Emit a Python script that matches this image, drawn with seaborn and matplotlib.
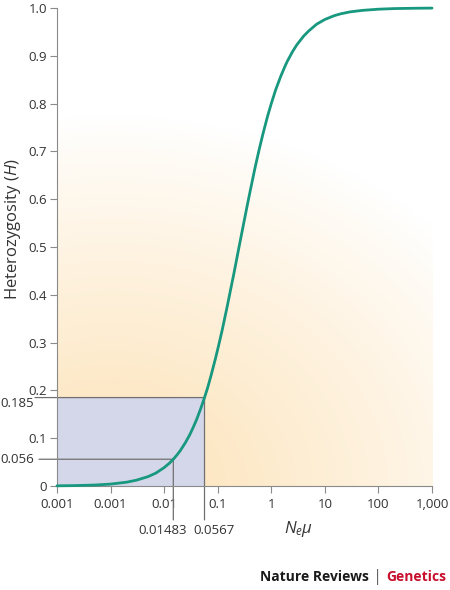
import numpy as np
import matplotlib
matplotlib.use("Agg")
import matplotlib.pyplot as plt
import matplotlib.transforms as mtransforms
from matplotlib.ticker import NullLocator
import seaborn as sns

# values
ne_mu = [0.0001, 0.0002, 0.0005, 0.001, 0.002, 0.003, 0.005, 0.007, 0.01, 0.0125,
         0.01483, 0.0175, 0.02, 0.025, 0.03, 0.035, 0.04, 0.0475, 0.0567, 0.065,
         0.075, 0.09, 0.1, 0.12, 0.15, 0.18, 0.2, 0.25, 0.3, 0.35, 0.4, 0.5, 0.6,
         0.7, 0.85, 1, 1.2, 1.5, 1.8, 2, 2.5, 3, 4, 5, 7, 10, 15, 20, 30, 50, 100,
         200, 500, 1000]
heterozygosity = [0.0004, 0.0008, 0.002, 0.004, 0.008, 0.012, 0.0196, 0.027, 0.0385, 0.0476,
                  0.056, 0.0654, 0.074, 0.0909, 0.107, 0.123, 0.138, 0.160, 0.185, 0.206,
                  0.231, 0.265, 0.286, 0.324, 0.375, 0.419, 0.444, 0.5, 0.545, 0.583,
                  0.615, 0.667, 0.706, 0.737, 0.773, 0.8, 0.828, 0.857, 0.878, 0.889,
                  0.909, 0.923, 0.941, 0.952, 0.966, 0.976, 0.984, 0.988, 0.992, 0.995,
                  0.9975, 0.9988, 0.9995, 0.9998]

y_ticks = [0, 0.1, 0.2, 0.3, 0.4, 0.5, 0.6, 0.7, 0.8, 0.9, 1.0]
y_tick_labels = ["0", "0.1", "0.2", "0.3", "0.4", "0.5", "0.6", "0.7", "0.8", "0.9", "1.0"]
x_ticks = [0.0001, 0.001, 0.01, 0.1, 1, 10, 100, 1000]
x_tick_labels = ["0.001", "0.001", "0.01", "0.1", "1", "10", "100", "1,000"]

marked_x = [0.01483, 0.0567]
marked_h = [0.056, 0.185]
marked_x_labels = ["0.01483", "0.0567"]
marked_h_labels = ["0.056", "0.185"]

sns.set_style("ticks")
plt.rcParams["font.family"] = ["Open Sans", "DejaVu Sans"]
plt.rcParams["mathtext.fontset"] = "custom"
plt.rcParams["mathtext.it"] = "Open Sans:italic"
plt.rcParams["mathtext.rm"] = "Open Sans"

text_col = "#333333"
line_col = "#707070"

fig = plt.figure(figsize=(4.5, 5.9), dpi=100)
ax = fig.add_axes([57 / 450, 104 / 590, 375 / 450, 478 / 590])

# soft peach background glow
W, H = 375, 478
gx, gy = np.meshgrid(np.linspace(0, W, 200), np.linspace(0, H, 250))
r = np.hypot((gx - 55) / 450, (gy + 5) / 375)
w = np.clip(1 - r, 0, 1) ** 0.9
peach = np.array([253, 226, 182]) / 255
img = 1 - w[..., None] * (1 - peach)
ax.imshow(img, extent=[0, 1, 0, 1], transform=ax.transAxes, origin="lower",
          aspect="auto", zorder=0, interpolation="bilinear")

ax.set_xscale("log")
ax.set_xlim(0.0001, 1000)
ax.set_ylim(0, 1.0)

# shaded box up to the second marked point
ax.fill_between([0.0001, marked_x[1]], 0, marked_h[1], color="#d4d7e9", lw=0, zorder=1)

blend_h = mtransforms.blended_transform_factory(ax.transAxes, ax.transData)
blend_v = mtransforms.blended_transform_factory(ax.transData, ax.transAxes)
left_ends = [-0.048, -0.0587]
for x, h, xl in zip(marked_x, marked_h, left_ends):
    ax.annotate("", xy=(x, h), xycoords="data", xytext=(xl, h), textcoords=blend_h,
                arrowprops=dict(arrowstyle="-", color=line_col, lw=0.9,
                                shrinkA=0, shrinkB=0), zorder=3)
    ax.annotate("", xy=(x, h), xycoords="data", xytext=(x, -0.071), textcoords=blend_v,
                arrowprops=dict(arrowstyle="-", color=line_col, lw=0.9,
                                shrinkA=0, shrinkB=0), zorder=3)

blend_fh = mtransforms.blended_transform_factory(fig.transFigure, ax.transData)
h_offsets = [0, -6]
for h, lab, off in zip(marked_h, marked_h_labels, h_offsets):
    ax.annotate(lab, xy=(34 / 450, h), xycoords=blend_fh, xytext=(0, off),
                textcoords="offset pixels", ha="right", va="center",
                fontsize=9.5, color=text_col, annotation_clip=False)

x_offsets = [-11, 10]
for x, lab, off in zip(marked_x, marked_x_labels, x_offsets):
    ax.annotate(lab, xy=(x, -0.094), xycoords=blend_v, xytext=(off, 0),
                textcoords="offset pixels", ha="center", va="center",
                fontsize=9.5, color=text_col, annotation_clip=False)

sns.lineplot(x=ne_mu, y=heterozygosity, ax=ax, color="#17987f", lw=2.0,
             clip_on=False, zorder=5)

ax.set_xticks(x_ticks)
ax.set_xticklabels(x_tick_labels)
ax.xaxis.set_minor_locator(NullLocator())
ax.set_yticks(y_ticks)
ax.set_yticklabels(y_tick_labels)
ax.tick_params(axis="both", length=5, width=0.8, color="#8a8a8a",
               labelcolor=text_col, labelsize=9.5)
ax.tick_params(axis="x", pad=4)
ax.tick_params(axis="y", pad=2)

sns.despine(ax=ax)
for s in ["left", "bottom"]:
    ax.spines[s].set_color("#8a8a8a")
    ax.spines[s].set_linewidth(0.8)
    ax.spines[s].set_zorder(4)

ax.set_xlabel(r"$N_e\mu$", fontsize=12, color=text_col)
ax.xaxis.set_label_coords(0.645, -0.068)
ax.set_ylabel("")
fig.text(13 / 450, 1 - 229 / 590, r"Heterozygosity ($H$)", rotation=90,
         ha="center", va="center", fontsize=12, color=text_col)

t3 = fig.text(446 / 450, 1 - 577 / 590, "Genetics", ha="right", va="center",
              fontsize=10, fontweight="bold", color="#c8102e")
t2 = ax.annotate("|", xycoords=t3, xy=(0, 0.5), xytext=(-4, 0), textcoords="offset pixels",
                 va="center", ha="right", fontsize=12, color="#666666",
                 annotation_clip=False)
t1 = ax.annotate("Nature Reviews", xycoords=t2, xy=(0, 0.5), xytext=(-4, 0),
                 textcoords="offset pixels", va="center", ha="right",
                 fontsize=10, fontweight="bold", color="#1a1a1a",
                 annotation_clip=False)

fig.savefig("out.png", dpi=100)
